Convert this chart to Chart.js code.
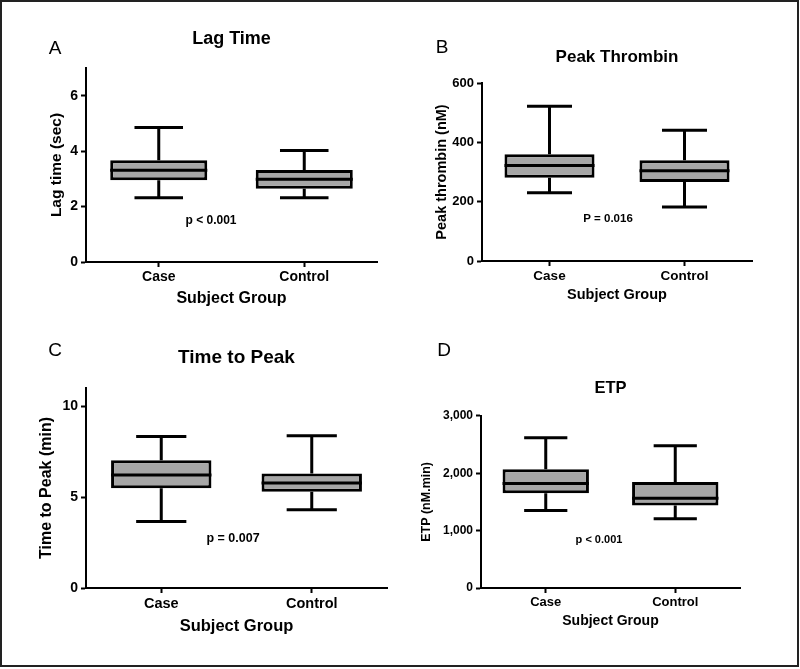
<!DOCTYPE html>
<html>
<head>
<meta charset="utf-8">
<script src="https://cdn.jsdelivr.net/npm/chart.js@4.4.0/dist/chart.umd.min.js"></script>
<style>
body { margin: 0; background: #fff; }
#wrap { position: relative; width: 800px; height: 669px; }
#wrap canvas { position: absolute; }
#frame { position: absolute; left: 0; top: 0; width: 799px; height: 667px; box-sizing: border-box; border: 2px solid #222; pointer-events: none; }
</style>
</head>
<body>
<div id="wrap">
  <canvas id="lagTime" width="400" height="320" style="left:0;top:0"></canvas>
  <canvas id="peakThrombin" width="400" height="320" style="left:400px;top:0"></canvas>
  <canvas id="timeToPeak" width="400" height="349" style="left:0;top:320px"></canvas>
  <canvas id="etp" width="400" height="349" style="left:400px;top:320px"></canvas>
  <div id="frame"></div>
</div>
<script>
const FONT = '"Liberation Sans", Arial, sans-serif';

const groups = ['Case', 'Control'];

// Lag time (sec)
const lagMin = [2.32, 2.32];
const lagQ1 = [2.95, 2.64];
const lagMedian = [3.31, 2.99];
const lagQ3 = [3.67, 3.32];
const lagMax = [4.85, 4.02];

// Peak thrombin (nM)
const peakMin = [230, 182];
const peakQ1 = [281, 266];
const peakMedian = [322, 304];
const peakQ3 = [360, 340];
const peakMax = [522, 441];

// Time to peak (min)
const ttpMin = [3.66, 4.30];
const ttpQ1 = [5.49, 5.29];
const ttpMedian = [6.22, 5.77];
const ttpQ3 = [7.02, 6.30];
const ttpMax = [8.33, 8.37];

// ETP (nM.min)
const etpMin = [1350, 1205];
const etpQ1 = [1652, 1437];
const etpMedian = [1819, 1565];
const etpQ3 = [2070, 1845];
const etpMax = [2619, 2480];

// whiskers, caps and median drawn from the scales
const whiskers = {
    id: 'whiskers',
    afterDatasetsDraw(chart) {
        const ds = chart.data.datasets[0];
        const s = ds.stats;
        const y = chart.scales.y;
        const ctx = chart.ctx;
        ctx.save();
        ctx.strokeStyle = '#000';
        ctx.lineWidth = 3;
        chart.getDatasetMeta(0).data.forEach((bar, i) => {
            const half = bar.width / 2;
            const cap = bar.width / 4;
            const yLo = y.getPixelForValue(s.min[i]);
            const yHi = y.getPixelForValue(s.max[i]);
            const yQ1 = y.getPixelForValue(s.q1[i]);
            const yQ3 = y.getPixelForValue(s.q3[i]);
            const yMed = y.getPixelForValue(s.median[i]);
            ctx.beginPath();
            ctx.moveTo(bar.x, yQ3); ctx.lineTo(bar.x, yHi);
            ctx.moveTo(bar.x - cap, yHi); ctx.lineTo(bar.x + cap, yHi);
            ctx.moveTo(bar.x, yQ1); ctx.lineTo(bar.x, yLo);
            ctx.moveTo(bar.x - cap, yLo); ctx.lineTo(bar.x + cap, yLo);
            ctx.moveTo(bar.x - half, yMed); ctx.lineTo(bar.x + half, yMed);
            ctx.stroke();
        });
        ctx.restore();
    }
};

// panel letter and p value
const annotate = {
    id: 'annotate',
    afterDraw(chart) {
        const a = chart.data.datasets[0].notes;
        const ctx = chart.ctx;
        ctx.save();
        ctx.fillStyle = '#000';
        ctx.textAlign = 'center';
        ctx.textBaseline = 'middle';
        ctx.font = '19px ' + FONT;
        ctx.fillText(a.letter, a.letterX, a.letterY);
        ctx.font = 'bold ' + a.pSize + 'px ' + FONT;
        ctx.fillText(a.p, a.pX, a.pY);
        ctx.restore();
    }
};

function boxChart(id, p) {
    return new Chart(document.getElementById(id), {
        type: 'bar',
        data: {
            labels: groups,
            datasets: [{
                data: p.q1.map((v, i) => [v, p.q3[i]]),
                stats: { min: p.min, q1: p.q1, median: p.median, q3: p.q3, max: p.max },
                notes: p.notes,
                backgroundColor: '#a6a6a6',
                borderColor: '#000',
                borderWidth: 3,
                borderSkipped: false,
                barPercentage: 1,
                categoryPercentage: 0.667,
            }]
        },
        options: {
            responsive: false,
            animation: false,
            events: [],
            layout: { padding: { left: 0, right: p.padRight, top: 0, bottom: 0 } },
            plugins: {
                legend: { display: false },
                tooltip: { enabled: false },
                title: {
                    display: true,
                    text: p.title,
                    fullSize: false,
                    color: '#000',
                    font: { family: FONT, size: p.titleSize, weight: 'bold' },
                    padding: { top: p.titleTop, bottom: p.titleBottom },
                },
            },
            scales: {
                x: {
                    grid: { drawOnChartArea: false, offset: false, tickLength: 5, tickWidth: 2, tickColor: '#000' },
                    border: { color: '#000', width: 2 },
                    ticks: { color: '#000', padding: 2, maxRotation: 0, font: { family: FONT, size: p.catSize, weight: 'bold' } },
                    title: {
                        display: true,
                        text: 'Subject Group',
                        color: '#000',
                        font: { family: FONT, size: p.xTitleSize, weight: 'bold' },
                        padding: { top: 0, bottom: p.xTitleBottom },
                    },
                    afterFit: s => { s.height = p.xAxisH; },
                },
                y: {
                    min: 0,
                    max: p.yMax,
                    grid: { drawOnChartArea: false, tickLength: 5, tickWidth: 2, tickColor: '#000' },
                    border: { color: '#000', width: 2 },
                    ticks: { stepSize: p.step, includeBounds: false, color: '#000', padding: 3, font: { family: FONT, size: p.tickSize, weight: 'bold' } },
                    title: {
                        display: true,
                        text: p.yTitle,
                        color: '#000',
                        font: { family: FONT, size: p.yTitleSize, weight: 'bold' },
                        padding: { top: p.yTitleLeft, bottom: 0 },
                    },
                    afterFit: s => { s.width = p.left; },
                },
            }
        },
        plugins: [whiskers, annotate],
    });
}

boxChart('lagTime', {
    title: 'Lag Time', titleSize: 18, titleTop: 28, titleBottom: 18.4,
    yTitle: 'Lag time (sec)', yTitleSize: 15.5, yTitleLeft: 47.7,
    yMax: 7, step: 2, tickSize: 14, catSize: 14, xTitleSize: 16, xTitleBottom: 11.4,
    left: 86, padRight: 23, xAxisH: 58,
    min: lagMin, q1: lagQ1, median: lagMedian, q3: lagQ3, max: lagMax,
    notes: { letter: 'A', letterX: 55, letterY: 49, p: 'p < 0.001', pSize: 12, pX: 211, pY: 221 },
});

boxChart('peakThrombin', {
    title: 'Peak Thrombin', titleSize: 17, titleTop: 46.8, titleBottom: 15.8,
    yTitle: 'Peak thrombin (nM)', yTitleSize: 14.5, yTitleLeft: 33.3,
    yMax: 600, step: 200, tickSize: 13, catSize: 13.5, xTitleSize: 14.5, xTitleBottom: 16.3,
    left: 82, padRight: 48, xAxisH: 59,
    min: peakMin, q1: peakQ1, median: peakMedian, q3: peakQ3, max: peakMax,
    notes: { letter: 'B', letterX: 42, letterY: 48, p: 'P = 0.016', pSize: 11.5, pX: 208, pY: 219 },
});

boxChart('timeToPeak', {
    title: 'Time to Peak', titleSize: 19, titleTop: 26.6, titleBottom: 18.6,
    yTitle: 'Time to Peak (min)', yTitleSize: 16, yTitleLeft: 37.4,
    yMax: 11, step: 5, tickSize: 14, catSize: 14.5, xTitleSize: 16.5, xTitleBottom: 33,
    left: 86, padRight: 13, xAxisH: 81,
    min: ttpMin, q1: ttpQ1, median: ttpMedian, q3: ttpQ3, max: ttpMax,
    notes: { letter: 'C', letterX: 55, letterY: 31, p: 'p = 0.007', pSize: 12.5, pX: 233, pY: 219 },
});

boxChart('etp', {
    title: 'ETP', titleSize: 16.5, titleTop: 59, titleBottom: 17,
    yTitle: 'ETP (nM.min)', yTitleSize: 12.5, yTitleLeft: 19.5,
    yMax: 3000, step: 1000, tickSize: 12, catSize: 13, xTitleSize: 14, xTitleBottom: 39,
    left: 81, padRight: 60, xAxisH: 81,
    min: etpMin, q1: etpQ1, median: etpMedian, q3: etpQ3, max: etpMax,
    notes: { letter: 'D', letterX: 44, letterY: 31, p: 'p < 0.001', pSize: 11, pX: 199, pY: 220 },
});
</script>
</body>
</html>
